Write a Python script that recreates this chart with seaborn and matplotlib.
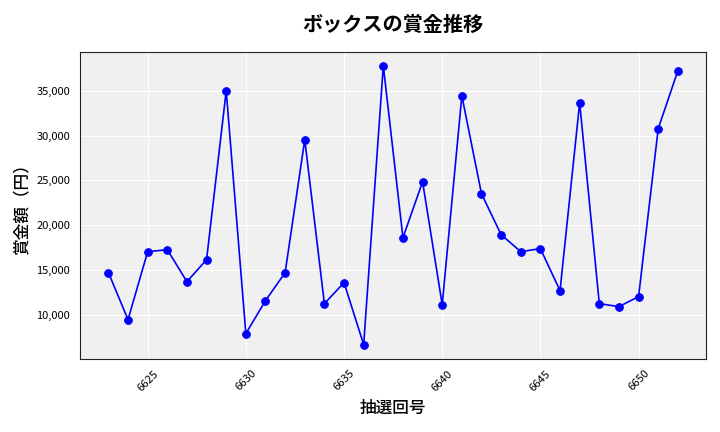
import matplotlib
matplotlib.use("Agg")
import matplotlib.pyplot as plt
import matplotlib.ticker as mticker
import seaborn as sns
import pandas as pd

draws = list(range(6623, 6653))
prizes = [14700, 9440, 17030, 17250, 13680, 16140, 35000, 7880, 11560, 14690,
          29530, 11230, 13570, 6650, 37790, 18590, 24840, 11120, 34440, 23500,
          18930, 17030, 17370, 12680, 33660, 11230, 10890, 12010, 30760, 37230]

sns.set_style("darkgrid", {"axes.facecolor": "#f0f0f0", "axes.edgecolor": "#222222",
                           "grid.color": "white", "text.color": "black",
                           "axes.labelcolor": "black", "xtick.color": "black",
                           "ytick.color": "black"})
plt.rcParams['font.family'] = ['Noto Sans CJK JP', 'DejaVu Sans']

df = pd.DataFrame({"draw": draws, "prize": prizes})

fig, ax = plt.subplots(figsize=(7.2, 4.32), dpi=100)
sns.lineplot(data=df, x="draw", y="prize", ax=ax, color="blue", marker="o",
             markersize=5.5, markeredgecolor="blue", linewidth=1.2)
ax.set_title("ボックスの賞金推移", fontsize=14.5, fontweight="bold", pad=15, color="black")
ax.set_xlabel("抽選回号", fontsize=12, fontweight="medium")
ax.set_ylabel("賞金額（円）", fontsize=12, fontweight="medium")
ax.yaxis.set_major_formatter(mticker.FuncFormatter(lambda v, p: f"{int(v):,}"))
ax.tick_params(axis="x", rotation=45, labelsize=8, colors="black")
ax.tick_params(axis="y", labelsize=8, colors="black")
for s in ax.spines.values():
    s.set_visible(True)
    s.set_color("#222222")
fig.subplots_adjust(left=0.111, right=0.981, top=0.88, bottom=0.17)
fig.savefig("out.png", dpi=100)
